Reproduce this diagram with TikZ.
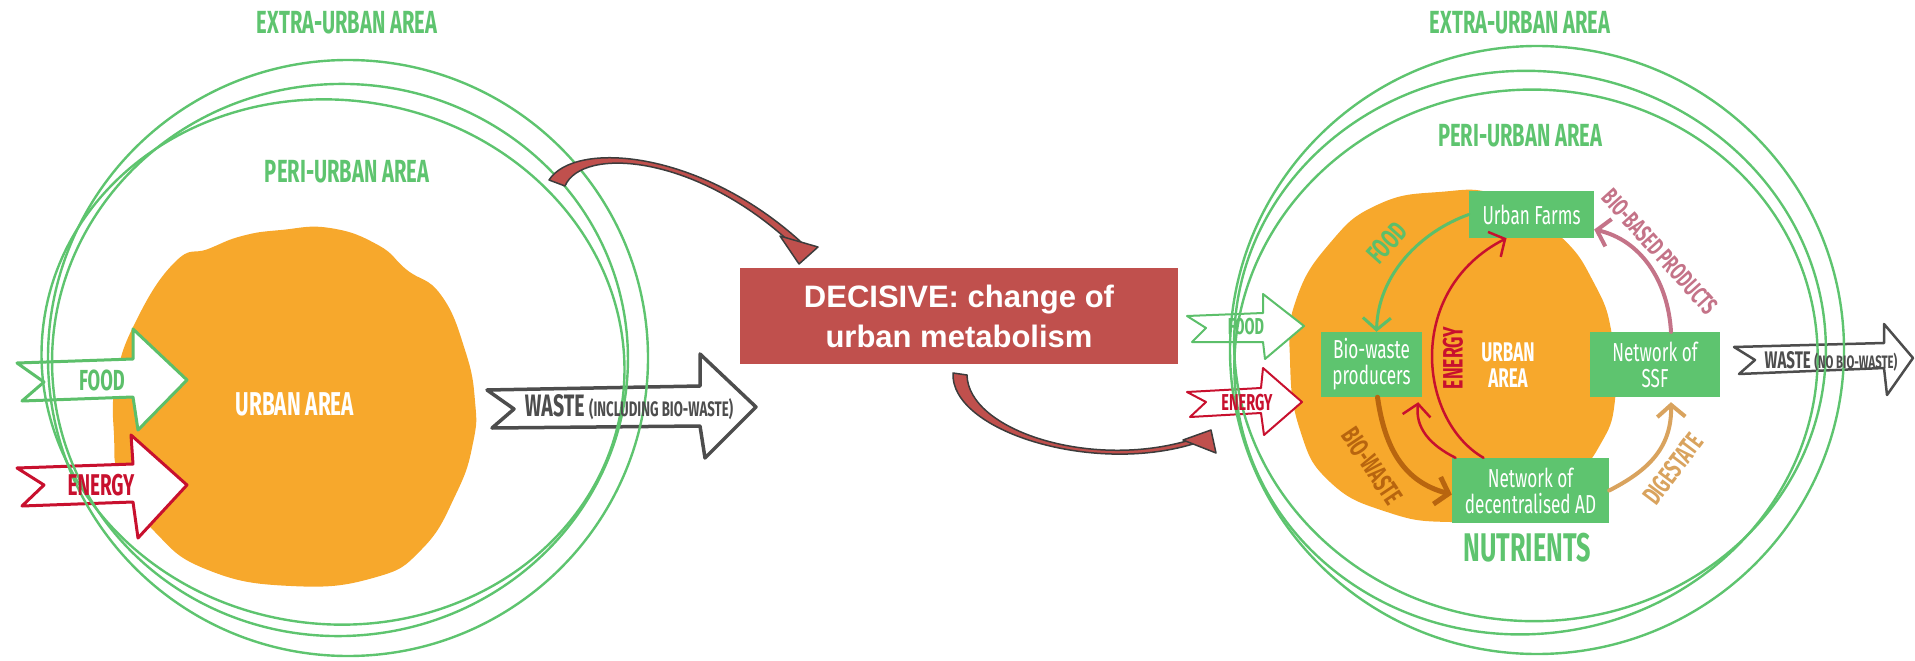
\documentclass[tikz,border=0pt]{standalone}
\usepackage{fontspec}
\setmainfont{Liberation Sans}
\newfontfamily\labelfont[FakeStretch=0.63]{Fira Sans}
\newfontfamily\boxfont[FakeStretch=0.66]{Fira Sans}
\usetikzlibrary{arrows.meta}

\definecolor{ringgreen}{HTML}{5EC46F}
\definecolor{foodgreen}{HTML}{5CBF6A}
\definecolor{urbanorange}{HTML}{F7A82C}
\definecolor{boxgreen}{HTML}{5EC46F}
\definecolor{decisivered}{HTML}{C0504D}
\definecolor{energyred}{HTML}{C8102E}
\definecolor{wastegray}{HTML}{4D4D4D}
\definecolor{biobrown}{HTML}{B8650F}
\definecolor{digesttan}{HTML}{D9A35E}
\definecolor{productpink}{HTML}{C47388}
\definecolor{swooshdark}{HTML}{3C3C3C}

\begin{document}
\begin{tikzpicture}[x=1pt, y=-1pt,
		ring/.style={draw=ringgreen, line width=2.4pt},
		banner/.style={fill=white, line width=#1, line join=round},
		arealabel/.style={text=ringgreen, font=\labelfont\bfseries\fontsize{32}{32}\selectfont},
		bannerlabel/.style={font=\labelfont\bfseries\fontsize{#1}{#1}\selectfont},
		farmbox/.style={fill=boxgreen, text=white, align=center, inner sep=0pt, font=\boxfont\fontsize{26}{26}\selectfont},
		flowlabel/.style={font=\labelfont\bfseries\fontsize{#1}{#1}\selectfont},
		flow/.style={line width=#1, line cap=round, -{Straight Barb[length=12pt, width=28pt]}},
		swoosh/.style={fill=decisivered, draw=swooshdark, line width=1.5pt, line join=round}]

		\useasboundingbox (0,0) rectangle (1915,661);

		\fill[urbanorange] plot[smooth cycle, tension=0.8] coordinates {(175,262) (136,321) (116,380) (114,435) (121,481) (155,532) (208,570) (291,586) (373,578) (422,549) (456,494) (473,443) (475,401) (465,350) (441,295) (407,270) (378,245) (330,228) (281,230) (242,236) (208,249)};
		\fill[urbanorange] plot[smooth cycle, tension=0.8] coordinates {(1439,192) (1500,196) (1559,235) (1594,283) (1612,335) (1615,400) (1600,445) (1570,480) (1520,515) (1450,522) (1387,512) (1330,482) (1300,430) (1290,360) (1296,300) (1330,243) (1377,205)};

		\draw[banner=3pt, draw=foodgreen] (17,363) -- (133,359) -- (133,329) -- (187,380) -- (138,430) -- (133,397) -- (22,401) -- (44,382) -- cycle;
		\draw[banner=3pt, draw=energyred] (17,468) -- (133,464) -- (131,435) -- (187,485) -- (138,538) -- (133,502) -- (22,506) -- (44,485) -- cycle;
		\draw[banner=3.5pt, draw=wastegray] (487,390) -- (700,386) -- (700,354) -- (756,407) -- (705,458) -- (700,426) -- (492,428) -- (514,409) -- cycle;
		\draw[banner=2pt, draw=foodgreen] (1187,316) -- (1263,313) -- (1263,294) -- (1304,326) -- (1265,359) -- (1263,342) -- (1192,342) -- (1206,328) -- cycle;
		\draw[banner=2pt, draw=energyred] (1187,392) -- (1261,388) -- (1263,368) -- (1302,402) -- (1264,435) -- (1261,413) -- (1190,417) -- (1206,402) -- cycle;
		\draw[banner=2.5pt, draw=wastegray] (1734,347) -- (1884,343) -- (1884,324) -- (1913,358) -- (1887,395) -- (1884,368) -- (1739,374) -- (1755,360) -- cycle;

		\draw[ring] (348,358) circle [x radius=300, y radius=298];
		\draw[ring] (340,360) circle [x radius=288, y radius=276, rotate=4];
		\draw[ring] (333,362) circle [x radius=292, y radius=262, rotate=-8];
		\draw[ring] (1537,350) circle [x radius=307, y radius=304];
		\draw[ring] (1530,346) circle [x radius=296, y radius=275, rotate=-5];
		\draw[ring] (1526,362) circle [x radius=292, y radius=272, rotate=8];

		\node[arealabel] (extraL) at (347,23) {EXTRA-URBAN AREA};
		\node[arealabel] (periL) at (347,172) {PERI-URBAN AREA};
		\node[text=white, font=\labelfont\bfseries\fontsize{33}{33}\selectfont] (urbanL) at (295,404) {URBAN AREA};
		\node[bannerlabel=29, text=foodgreen] (foodL) at (102,380) {FOOD};
		\node[bannerlabel=30, text=energyred] (energyL) at (101,485) {ENERGY};
		\node[bannerlabel=31, text=wastegray] (wasteL) at (629,407) {WASTE \fontsize{21}{21}\selectfont(INCLUDING BIO-WASTE)};

		\node[fill=decisivered, text=white, font=\bfseries\fontsize{31}{40}\selectfont, align=center, minimum width=438pt, minimum height=96pt] (decisive) at (959,316) {DECISIVE: change of\\urban metabolism};

		\node[arealabel] (extraR) at (1520,23) {EXTRA-URBAN AREA};
		\node[arealabel] (periR) at (1520,136) {PERI-URBAN AREA};
		\node[bannerlabel=23, text=foodgreen] (foodR) at (1246,327) {FOOD};
		\node[bannerlabel=23, text=energyred] (energyR) at (1247,403) {ENERGY};
		\node[bannerlabel=24, text=wastegray] (wasteR) at (1831,361) {WASTE \fontsize{18}{18}\selectfont(NO BIO-WASTE)};

		\node[farmbox, minimum width=125pt, minimum height=47pt] (farms) at (1531.5,214.5) {Urban Farms};
		\node[farmbox, minimum width=101pt, minimum height=65pt] (bio) at (1371.5,364.5) {Bio-waste\\producers};
		\node[farmbox, minimum width=130pt, minimum height=65pt] (ssf) at (1655,364.5) {Network of\\SSF};
		\node[farmbox, minimum width=157pt, minimum height=65pt] (ad) at (1530.5,490.5) {Network of\\decentralised AD};
		\node[text=white, align=center, font=\labelfont\bfseries\fontsize{27}{26}\selectfont] (urbanR) at (1508,365) {URBAN\\AREA};

		\draw[flow=3pt, foodgreen] (farms.west) .. controls (1420,232) and (1378,275) .. ([xshift=5pt]bio.north);
		\draw[flow=2.5pt, energyred] ([xshift=-47pt]ad.north) .. controls (1418,420) and (1405,290) .. ([xshift=-25pt]farms.south);
		\draw[flow=2.5pt, energyred] ([xshift=-75pt]ad.north) .. controls (1430,445) and (1415,428) .. ([xshift=-4pt, yshift=-5pt]bio.south east);
		\draw[flow=5pt, biobrown] ([xshift=6pt]bio.south) .. controls (1385,450) and (1405,482) .. ([yshift=-4pt]ad.west);
		\draw[flow=4pt, digesttan] (ad.east) .. controls (1645,472) and (1672,450) .. ([xshift=16pt, yshift=-5pt]ssf.south);
		\draw[flow=4pt, productpink] ([xshift=16pt]ssf.north) .. controls (1668,280) and (1640,240) .. ([yshift=-15pt]farms.east);

		\node[flowlabel=28, text=foodgreen, rotate=48] (foodflow) at (1387,243) {FOOD};
		\node[flowlabel=28, text=energyred, rotate=90] (energyflow) at (1453,358) {ENERGY};
		\node[flowlabel=27, text=biobrown, rotate=-56] (bioflow) at (1372,466) {BIO-WASTE};
		\node[flowlabel=27, text=digesttan, rotate=53] (digestflow) at (1673,469) {DIGESTATE};
		\node[flowlabel=25, text=productpink, rotate=-48] (productflow) at (1660,252) {BIO-BASED PRODUCTS};
		\node[text=ringgreen, font=\labelfont\bfseries\fontsize{40}{40}\selectfont] (nutrients) at (1527,548) {NUTRIENTS};

		\draw[swoosh] (549,180) .. controls (575,140) and (700,150) .. (801,242) -- (794,246) .. controls (697,154) and (582,146) .. (565,186) -- cycle;
		\draw[swoosh] (780,236) -- (799,264) -- (818,247) -- cycle;
		\draw[swoosh] (953,373) .. controls (950,430) and (1090,475) .. (1193,444) -- (1190,440) .. controls (1090,470) and (968,430) .. (967,375) -- cycle;
		\draw[swoosh] (1183,440) -- (1211,430) -- (1216,453) -- cycle;
	\end{tikzpicture}
\end{document}
